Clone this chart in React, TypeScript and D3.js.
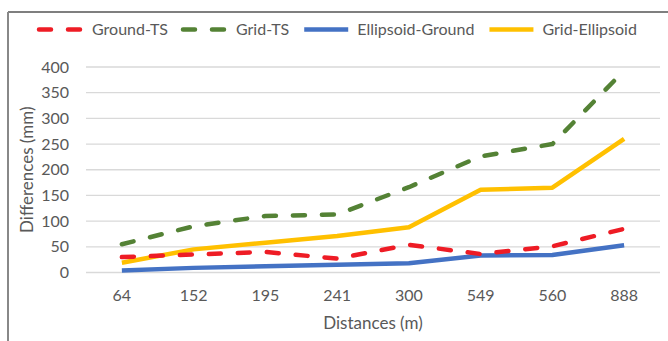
import React, { useEffect, useRef } from 'react'
import * as d3 from 'd3'

const distances = ['64', '152', '195', '241', '300', '549', '560', '888']
const groundTS = [30, 35, 40, 27, 54, 36, 51, 85]
const gridTS = [55, 90, 110, 113, 166, 226, 250, 393]
const ellipsoidGround = [4, 9, 12, 15, 18, 33, 34, 53]
const gridEllipsoid = [19, 45, 58, 71, 88, 161, 165, 260]
const yTicks = [0, 50, 100, 150, 200, 250, 300, 350, 400]

const series = [
  { name: 'Ground-TS', values: groundTS, color: '#ee1c25', dashed: true },
  { name: 'Grid-TS', values: gridTS, color: '#548235', dashed: true },
  { name: 'Ellipsoid-Ground', values: ellipsoidGround, color: '#4472c4', dashed: false },
  { name: 'Grid-Ellipsoid', values: gridEllipsoid, color: '#ffc000', dashed: false },
]

export default function App() {
  const ref = useRef<SVGSVGElement | null>(null)

  useEffect(() => {
    if (!ref.current) return
    const svg = d3.select(ref.current)
    svg.selectAll('*').remove()

    const width = 668, height = 341
    const left = 86, right = 660, top = 67, bottom = 272.5
    const font = 'Lato, "Open Sans", sans-serif'
    const textColor = '#595959'

    // frame (cropped box from the original figure)
    svg.append('line').attr('x1', 8).attr('x2', width).attr('y1', 12).attr('y2', 12)
      .attr('stroke', '#555').attr('stroke-width', 1.5)
    svg.append('line').attr('x1', 8).attr('x2', 8).attr('y1', 12).attr('y2', height)
      .attr('stroke', '#888').attr('stroke-width', 2)

    const x = d3.scaleBand().domain(distances).range([left, right])
    const y = d3.scaleLinear().domain([0, 400]).range([bottom, top])

    // gridlines
    svg.append('g').selectAll('line').data(yTicks).enter().append('line')
      .attr('x1', left).attr('x2', right)
      .attr('y1', d => y(d)).attr('y2', d => y(d))
      .attr('stroke', '#d9d9d9').attr('stroke-width', 1.3)

    // y tick labels
    svg.append('g').selectAll('text').data(yTicks).enter().append('text')
      .attr('x', 69).attr('y', d => y(d)).attr('dy', '0.35em')
      .attr('text-anchor', 'end').attr('font-family', font).attr('font-size', 16)
      .attr('fill', textColor).text(d => d)

    // x tick labels
    svg.append('g').selectAll('text').data(distances).enter().append('text')
      .attr('x', d => x(d)! + x.bandwidth() / 2).attr('y', 295).attr('dy', '0.35em')
      .attr('text-anchor', 'middle').attr('font-family', font).attr('font-size', 16)
      .attr('fill', textColor).text(d => d)

    // axis titles
    svg.append('text').attr('x', (left + right) / 2).attr('y', 323).attr('dy', '0.35em')
      .attr('text-anchor', 'middle').attr('font-family', font).attr('font-size', 17)
      .attr('fill', textColor).text('Distances (m)')
    svg.append('text').attr('transform', `translate(27,${(top + bottom) / 2}) rotate(-90)`)
      .attr('dy', '0.35em').attr('text-anchor', 'middle').attr('font-family', font).attr('font-size', 17)
      .attr('fill', textColor).text('Differences (mm)')

    const line = d3.line<number>()
      .x((_, i) => x(distances[i])! + x.bandwidth() / 2)
      .y(d => y(d))

    // draw solid lines first, dashed on top like the source
    const order = [series[2], series[3], series[0], series[1]]
    order.forEach(s => {
      svg.append('path').datum(s.values).attr('d', line)
        .attr('fill', 'none').attr('stroke', s.color).attr('stroke-width', 4.5)
        .attr('stroke-linecap', s.dashed ? 'round' : 'butt')
        .attr('stroke-linejoin', 'round')
        .attr('stroke-dasharray', s.dashed ? '12 17' : null)
    })

    // legend
    let lx = 37
    const ly = 29.5
    series.forEach(s => {
      svg.append('line').attr('x1', lx + 2).attr('x2', lx + 46).attr('y1', ly).attr('y2', ly)
        .attr('stroke', s.color).attr('stroke-width', 4.5)
        .attr('stroke-linecap', s.dashed ? 'round' : 'butt')
        .attr('stroke-dasharray', s.dashed ? '12 17' : null)
      const t = svg.append('text').attr('x', lx + 55).attr('y', ly).attr('dy', '0.35em')
        .attr('font-family', font).attr('font-size', 16).attr('fill', textColor).text(s.name)
      const w = (t.node() as SVGTextElement).getComputedTextLength()
      lx = lx + 55 + w + 13
    })
  }, [])

  return (
    <svg ref={ref} width={668} height={341}
      style={{ position: 'absolute', left: 0, top: 0, background: '#fff' }} />
  )
}
